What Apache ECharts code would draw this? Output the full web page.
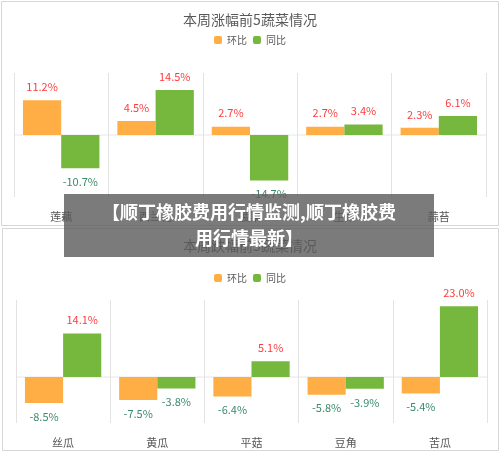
<!DOCTYPE html><html><head><meta charset="utf-8"><script src="https://cdn.jsdelivr.net/npm/echarts@6/dist/echarts.min.js"></script></head><body style="margin:0"><div id="c" style="width:500px;height:452px"></div><script>
const cats1=['莲藕','西兰花','菠菜','生菜','蒜苔'];
const hb1=[11.2,4.5,2.7,2.7,2.3];
const tb1=[-10.7,14.5,-14.7,3.4,6.1];
const cats2=['丝瓜','黄瓜','平菇','豆角','苦瓜'];
const hb2=[-8.5,-7.5,-6.4,-5.8,-5.4];
const tb2=[14.1,-3.8,5.1,-3.9,23.0];
const F='"Noto Sans CJK SC",sans-serif';
const lab={show:true,formatter:p=>p.value.toFixed(1)+'%',fontSize:11,fontFamily:F,distance:8,
  color:'#ff3b3b'};
function ser(name,data,color,i){return{name,type:'bar',xAxisIndex:i,yAxisIndex:i,data:data.map(v=>({value:v,label:{position:v>=0?'top':'bottom',color:v>=0?'#ff3b3b':'#3a8a6a'}})),itemStyle:{color},barGap:0,barCategoryGap:'19%',label:lab};}
function xa(c,i){return{type:'category',gridIndex:i,data:c,axisLine:{show:false},axisTick:{show:false},axisLabel:{color:'#555',fontSize:11,fontFamily:F,margin:i?14:14},splitLine:{show:true,lineStyle:{color:'#e3e3e3'}}};}
function ya(i,min,max){return{type:'value',gridIndex:i,min,max,show:false};}
const ch=echarts.init(document.getElementById('c'));
ch.setOption({animation:false,backgroundColor:'#fff',
 title:[{text:'本周涨幅前5蔬菜情况',left:'center',top:8,textStyle:{fontSize:14,fontWeight:'normal',color:'#595959',fontFamily:F}},
        {text:'本周跌幅前5蔬菜情况',left:'center',top:234,textStyle:{fontSize:14,fontWeight:'normal',color:'#595959',fontFamily:F}}],
 legend:[{data:['环比','同比'],top:30,left:'center',itemWidth:8,itemHeight:8,itemGap:6,textStyle:{fontSize:10,color:'#595959',fontFamily:F}},
         {data:['环比','同比'],top:268,left:'center',itemWidth:8,itemHeight:8,itemGap:6,textStyle:{fontSize:10,color:'#595959',fontFamily:F}}],
 grid:[{left:14,right:14,top:73,height:124},{left:16,right:13,top:300,height:123}],
 xAxis:[xa(cats1,0),xa(cats2,1)],
 yAxis:[ya(0,-20,20),ya(1,-15,25)],
 series:[ser('环比',hb1,'#ffad45',0),ser('同比',tb1,'#76b83e',0),ser('环比',hb2,'#ffad45',1),ser('同比',tb2,'#76b83e',1)],
 graphic:[
  {type:'rect',shape:{x:1.5,y:1.5,width:497,height:224},style:{fill:'none',stroke:'#d6d6d6'}},
  {type:'rect',shape:{x:2.5,y:228.5,width:496,height:222},style:{fill:'none',stroke:'#d6d6d6'}},
  {type:'line',shape:{x1:14,y1:135,x2:486,y2:135},style:{stroke:'#e6e6e6'}},
  {type:'line',shape:{x1:16,y1:377,x2:487,y2:377},style:{stroke:'#e6e6e6'}},
  {type:'rect',z:100,shape:{x:64,y:194,width:370,height:63},style:{fill:'rgba(90,90,90,0.8)'}},
  {type:'text',z:101,x:249,y:225,style:{text:'【顺丁橡胶费用行情监测,顺丁橡胶费\n用行情最新】',fill:'#fff',font:'bold 18px "Noto Sans CJK SC"',align:'center',verticalAlign:'middle',lineHeight:26}}
 ]});
</script></body></html>
